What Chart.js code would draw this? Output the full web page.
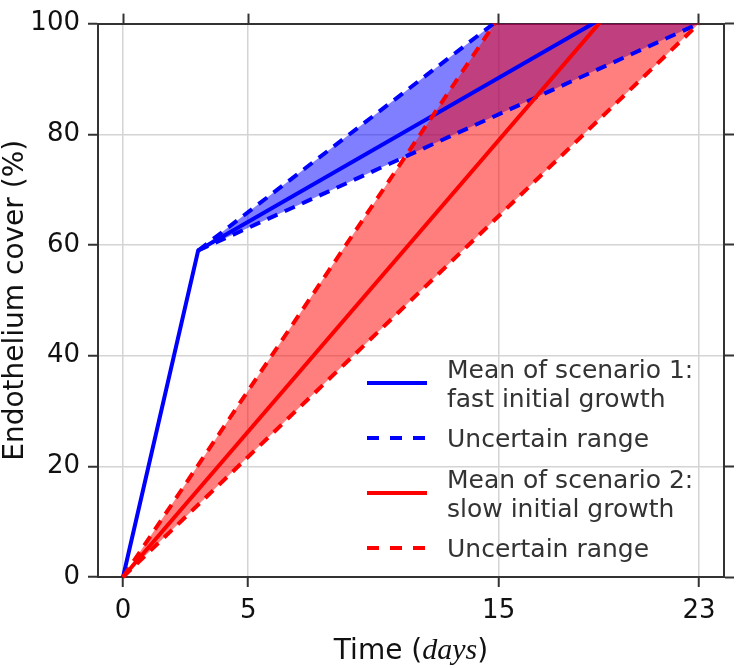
<!DOCTYPE html>
<html>
<head>
<meta charset="utf-8">
<script src="https://cdn.jsdelivr.net/npm/chart.js@4.4.1/dist/chart.umd.min.js"></script>
<style>
  html, body { margin: 0; padding: 0; background: #fff; }
  #wrap { width: 737px; height: 668px; position: relative; }
</style>
</head>
<body>
<div id="wrap"><canvas id="coverChart"></canvas></div>
<script>
// x tick positions (days)
const dayTicks = [0, 5, 15, 23];

// scenario 1: fast initial growth (anything above 100 is cut by the plot top)
const fastMeanDays = [0, 3, 23];
const fastMeanCover = [0, 59, 111];
const fastUpperDays = [3, 23];
const fastUpperCover = [59, 128.5];
const fastLowerDays = [3, 23];
const fastLowerCover = [59, 100];

// scenario 2: slow initial growth
const slowMeanDays = [0, 23];
const slowMeanCover = [0, 121];
const slowUpperDays = [0, 23];
const slowUpperCover = [0, 155];
const slowLowerDays = [0, 23];
const slowLowerCover = [0, 100];

const legendLabels = [
  ['Mean of scenario 1:', 'fast initial growth'],
  ['Uncertain range'],
  ['Mean of scenario 2:', 'slow initial growth'],
  ['Uncertain range']
];

const BLUE = '#0000ff';
const RED = '#ff0000';
const DASH = [11, 8];

Chart.defaults.font.family = '"DejaVu Sans", sans-serif';

function toPoints(xs, ys) {
  return xs.map((x, i) => ({ x: x, y: ys[i] }));
}

function lineSet(xs, ys, color, dashed, order, extra) {
  return Object.assign({
    data: toPoints(xs, ys),
    borderColor: color,
    borderWidth: 4,
    borderDash: dashed ? DASH : [],
    borderCapStyle: 'butt',
    pointRadius: 0,
    tension: 0,
    fill: false,
    order: order,
    clip: { left: 4, top: 0, right: 0, bottom: 4 }
  }, extra || {});
}

// legend drawn inside the plot, lower right
const insideLegend = {
  id: 'insideLegend',
  afterDatasetsDraw(chart) {
    const { ctx, chartArea } = chart;
    const sets = [0, 2, 3, 5].map(i => chart.data.datasets[i]);
    const x0 = chartArea.left + 269, x1 = chartArea.left + 329, tx = chartArea.left + 349;
    let y = chartArea.top + 354;
    ctx.save();
    ctx.font = '25px "DejaVu Sans"';
    ctx.fillStyle = '#333';
    ctx.textBaseline = 'alphabetic';
    ctx.textAlign = 'left';
    legendLabels.forEach((lines, k) => {
      const ds = sets[k];
      const bases = lines.map((_, j) => y + j * 29);
      const sy = bases.reduce((a, b) => a + b, 0) / bases.length - 9;
      ctx.beginPath();
      ctx.lineWidth = 4;
      ctx.lineCap = 'butt';
      ctx.strokeStyle = ds.borderColor;
      ctx.setLineDash(ds.borderDash.length ? [12, 11] : []);
      ctx.moveTo(x0, sy);
      ctx.lineTo(x1, sy);
      ctx.stroke();
      ctx.setLineDash([]);
      lines.forEach((t, j) => ctx.fillText(t, tx, bases[j]));
      y = bases[bases.length - 1] + 40.5;
    });
    ctx.restore();
  }
};

// x title with the italic unit
const timeTitle = {
  id: 'timeTitle',
  afterDraw(chart) {
    const { ctx, chartArea } = chart;
    const parts = [
      { t: 'Time (', f: '28px "DejaVu Sans"' },
      { t: 'days', f: 'italic 30px "Liberation Serif"' },
      { t: ')', f: '28px "DejaVu Sans"' }
    ];
    ctx.save();
    let w = 0;
    parts.forEach(p => { ctx.font = p.f; p.w = ctx.measureText(p.t).width; w += p.w; });
    let x = (chartArea.left + chartArea.right) / 2 - w / 2;
    const y = chart.height - 9;
    ctx.fillStyle = '#111';
    ctx.textBaseline = 'alphabetic';
    ctx.textAlign = 'left';
    parts.forEach(p => { ctx.font = p.f; ctx.fillText(p.t, x, y); x += p.w; });
    ctx.restore();
  }
};

const tickMarks = { tickLength: 10, tickColor: '#333', tickWidth: 2 };
const spine = { color: '#333', width: 2 };

new Chart(document.getElementById('coverChart'), {
  type: 'line',
  data: {
    datasets: [
      lineSet(fastMeanDays, fastMeanCover, BLUE, false, 2),
      lineSet(fastUpperDays, fastUpperCover, BLUE, true, 2, { fill: '+1', backgroundColor: 'rgba(0, 0, 255, 0.5)' }),
      lineSet(fastLowerDays, fastLowerCover, BLUE, true, 2),
      lineSet(slowMeanDays, slowMeanCover, RED, false, 1),
      lineSet(slowUpperDays, slowUpperCover, RED, true, 1, { fill: '+1', backgroundColor: 'rgba(255, 0, 0, 0.5)' }),
      lineSet(slowLowerDays, slowLowerCover, RED, true, 1)
    ]
  },
  options: {
    responsive: true,
    maintainAspectRatio: false,
    animation: false,
    layout: { padding: 0 },
    plugins: {
      legend: { display: false },
      tooltip: { enabled: false },
      filler: { drawTime: 'beforeDatasetsDraw' }
    },
    scales: {
      x: {
        type: 'linear', position: 'bottom', min: -1, max: 24,
        afterBuildTicks: s => { s.ticks = dayTicks.map(v => ({ value: v })); },
        afterFit: s => { s.height = 91; },
        grid: Object.assign({ color: '#d4d4d4', lineWidth: 1.5 }, tickMarks),
        border: spine,
        ticks: { color: '#111', font: { size: 26 }, padding: 9, maxRotation: 0, autoSkip: false }
      },
      y: {
        type: 'linear', position: 'left', min: 0, max: 100,
        afterFit: s => { s.width = 98; },
        grid: Object.assign({ color: '#d4d4d4', lineWidth: 1.5 }, tickMarks),
        border: spine,
        ticks: { stepSize: 20, color: '#111', font: { size: 26 }, padding: 8 },
        title: {
          display: true, text: 'Endothelium cover (%)', color: '#111',
          font: { size: 28, lineHeight: 1.1 }, padding: 0
        }
      },
      x2: {
        type: 'linear', position: 'top', min: -1, max: 24,
        afterBuildTicks: s => { s.ticks = dayTicks.map(v => ({ value: v })); },
        afterFit: s => { s.height = 14; },
        grid: Object.assign({ drawOnChartArea: false }, tickMarks),
        border: spine,
        ticks: { display: false }
      },
      y2: {
        type: 'linear', position: 'right', min: 0, max: 100,
        afterFit: s => { s.width = 13; },
        grid: Object.assign({ drawOnChartArea: false }, tickMarks),
        border: spine,
        ticks: { display: false, stepSize: 20 }
      }
    }
  },
  plugins: [insideLegend, timeTitle]
});
</script>
</body>
</html>
